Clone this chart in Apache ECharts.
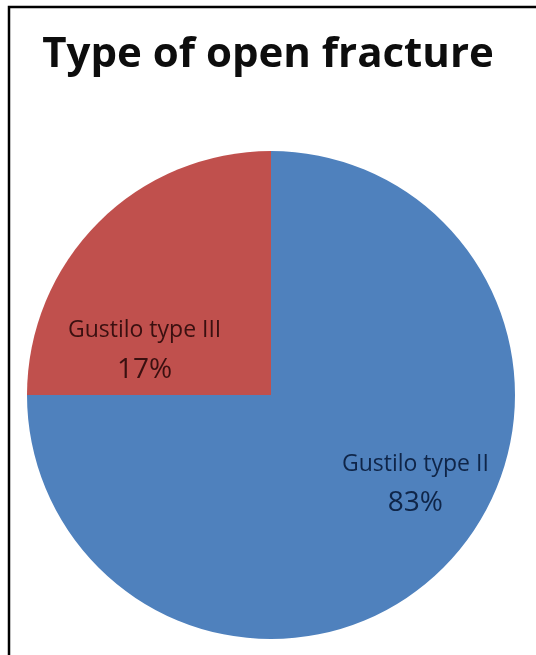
<!DOCTYPE html>
<html><head><meta charset="utf-8">
<style>html,body{margin:0;padding:0;background:#fff;}#c{width:536px;height:655px;}</style>
<script src="https://cdn.jsdelivr.net/npm/echarts@6/dist/echarts.min.js"></script>
</head><body><div id="c"></div>
<script>
// Data
const titleText = 'Type of open fracture';
const categories = ['Gustilo type II', 'Gustilo type III'];
const drawnShares = [75, 25];          // slice sizes as drawn in the picture
const printedPercents = ['83%', '17%']; // percentages printed on the slices
const colors = ['#4F81BD', '#C0504D'];

const chart = echarts.init(document.getElementById('c'), null, {renderer: 'canvas'});
const labelOffsets = [[56, 0], [-38, 43]];
const labelColors = ['#0f2548', '#3a1010'];
const data = categories.map((name, i) => ({
  name: name,
  value: drawnShares[i],
  pct: printedPercents[i],
  itemStyle: {color: colors[i]},
  label: {offset: labelOffsets[i], color: labelColors[i]}
}));
chart.setOption({
  backgroundColor: '#ffffff',
  animation: false,
  title: {
    text: titleText, left: 'center', top: 29,
    textStyle: {fontFamily: 'Open Sans', fontWeight: 'bold', fontSize: 42, color: '#0d0d0d'}
  },
  graphic: [{
    type: 'polyline', silent: true,
    shape: {points: [[9, 655], [9, 7], [536, 7]]},
    style: {stroke: '#000', lineWidth: 2.5, fill: null}
  }],
  series: [{
    type: 'pie',
    center: [271, 395],
    radius: 244,
    startAngle: 90,
    clockwise: true,
    data: data,
    label: {
      show: true, position: 'inside',
      formatter: p => '{n|' + p.name + '}\n{p|' + p.data.pct + '}',
      rich: {
        n: {fontFamily: 'Open Sans', fontSize: 23, lineHeight: 40},
        p: {fontFamily: 'Open Sans', fontSize: 28, lineHeight: 38}
      }
    },
    labelLine: {show: false},
    emphasis: {disabled: true}
  }]
});
</script></body></html>
